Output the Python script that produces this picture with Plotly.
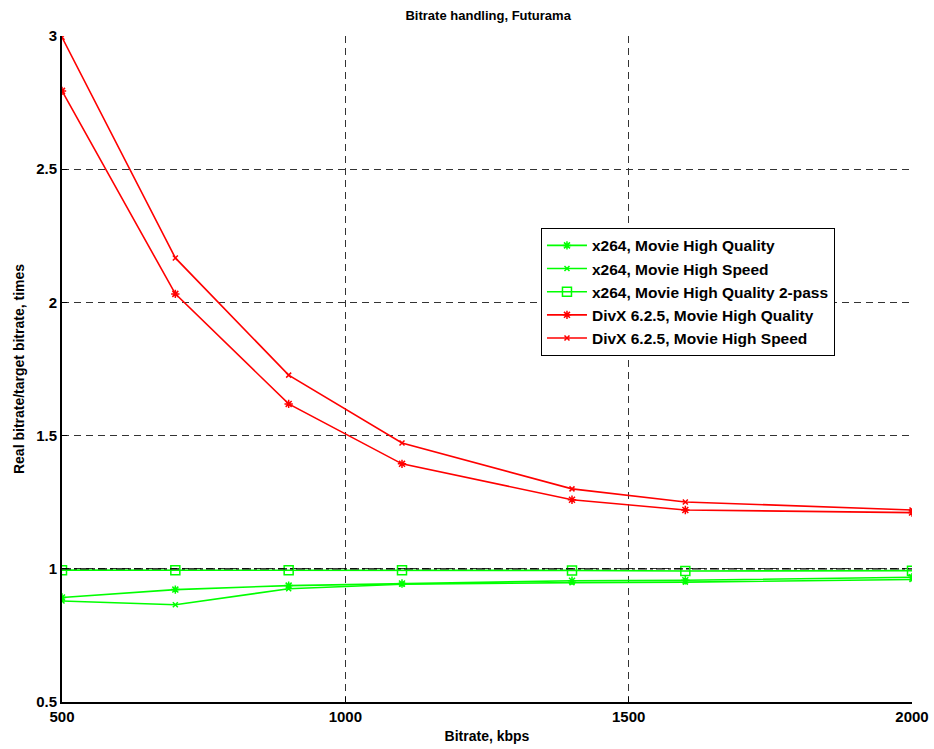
import plotly.graph_objects as go

bitrate = [500, 700, 900, 1100, 1400, 1600, 2000]
x264_hq = [0.892, 0.922, 0.937, 0.945, 0.955, 0.957, 0.968]
x264_hs = [0.879, 0.865, 0.925, 0.942, 0.948, 0.950, 0.960]
x264_hq2 = [0.995, 0.995, 0.995, 0.995, 0.994, 0.992, 0.993]
divx_hq = [2.794, 2.032, 1.619, 1.394, 1.259, 1.221, 1.211]
divx_hs = [2.995, 2.167, 1.727, 1.472, 1.300, 1.251, 1.221]
ref_x = [500, 2000]
ref_y = [1.0, 1.0]
x_ticks = [500, 1000, 1500, 2000]
y_ticks = [0.5, 1, 1.5, 2, 2.5, 3]
y_ticklabels = ["0.5", "1", "1.5", "2", "2.5", "3"]

GREEN = "#00ff00"
RED = "#ff0000"
FONT = "Liberation Sans"

fig = go.Figure()
fig.add_trace(go.Scatter(x=bitrate, y=x264_hq, name="<b>x264, Movie High Quality</b>",
                         mode="lines+markers", line=dict(color=GREEN, width=1.6),
                         marker=dict(symbol="asterisk-open", size=7, color=GREEN, line=dict(color=GREEN, width=1.5))))
fig.add_trace(go.Scatter(x=bitrate, y=x264_hs, name="<b>x264, Movie High Speed</b>",
                         mode="lines+markers", line=dict(color=GREEN, width=1.6),
                         marker=dict(symbol="x-thin-open", size=5, color=GREEN, line=dict(color=GREEN, width=1.5))))
fig.add_trace(go.Scatter(x=bitrate, y=x264_hq2, name="<b>x264, Movie High Quality 2-pass</b>",
                         mode="lines+markers", line=dict(color=GREEN, width=1.6),
                         marker=dict(symbol="square-open", size=9, color=GREEN, line=dict(color=GREEN, width=1.5))))
fig.add_trace(go.Scatter(x=bitrate, y=divx_hq, name="<b>DivX 6.2.5, Movie High Quality</b>",
                         mode="lines+markers", line=dict(color=RED, width=1.6),
                         marker=dict(symbol="asterisk-open", size=7, color=RED, line=dict(color=RED, width=1.5))))
fig.add_trace(go.Scatter(x=bitrate, y=divx_hs, name="<b>DivX 6.2.5, Movie High Speed</b>",
                         mode="lines+markers", line=dict(color=RED, width=1.6),
                         marker=dict(symbol="x-thin-open", size=5, color=RED, line=dict(color=RED, width=1.5))))
fig.add_trace(go.Scatter(x=ref_x, y=ref_y, mode="lines", showlegend=False, hoverinfo="skip",
                         line=dict(color="black", width=1.2, dash="dashdot")))

axis_common = dict(
    showline=True, linecolor="black", linewidth=2, ticks="inside", ticklen=5, tickcolor="black",
    showgrid=True, gridcolor="#333333", griddash="7px,5px", gridwidth=1, zeroline=False,
    tickfont=dict(family=FONT, size=15, color="black"), automargin=False,
)

fig.update_layout(
    width=934, height=749,
    paper_bgcolor="white", plot_bgcolor="white",
    margin=dict(l=62, r=22, t=36, b=47),
    font=dict(family=FONT, color="black"),
    title=dict(text="<b>Bitrate handling, Futurama</b>", x=0.5227, xanchor="center", y=0.98, yanchor="middle",
               font=dict(family=FONT, size=13, color="black")),
    xaxis=dict(range=[500, 2000], tickvals=x_ticks, ticktext=[f"<b>{v}</b>" for v in x_ticks],
               title=dict(text="<b>Bitrate, kbps</b>", font=dict(family=FONT, size=14), standoff=7),
               **axis_common),
    yaxis=dict(range=[0.5, 3], tickvals=y_ticks, ticktext=[f"<b>{t}</b>" for t in y_ticklabels],
               title=dict(text="<b>Real bitrate/target bitrate, times</b>", font=dict(family=FONT, size=14), standoff=8),
               **axis_common),
    legend=dict(x=0.5635, y=0.712, xanchor="left", yanchor="top", bgcolor="white",
                bordercolor="black", borderwidth=1, font=dict(family=FONT, size=15.5, color="black"),
                tracegroupgap=0, itemwidth=40),
    showlegend=True,
)

fig.write_html("out.html", config={"displayModeBar": False},
               post_script="document.body.style.margin='0';document.body.style.overflow='hidden';")
